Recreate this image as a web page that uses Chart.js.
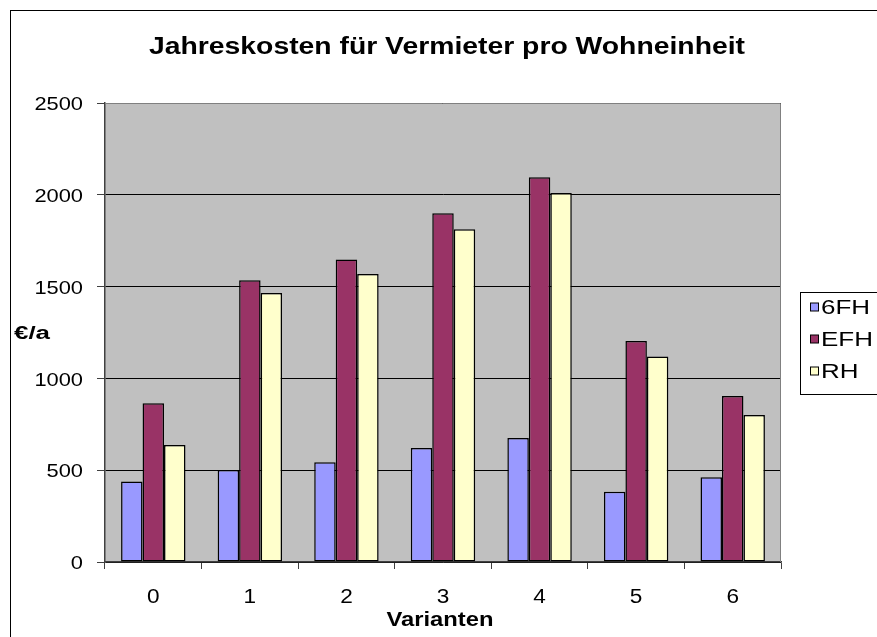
<!DOCTYPE html>
<html><head><meta charset="utf-8">
<script src="https://cdn.jsdelivr.net/npm/chart.js@4/dist/chart.umd.min.js"></script>
<style>html,body{margin:0;padding:0;background:#fff}#wrap{width:877px;height:637px;position:relative}</style>
</head><body><div id="wrap"><canvas id="c" width="877" height="637"></canvas></div>
<script>
const categories = ["0","1","2","3","4","5","6"];
const seriesNames = ["6FH","EFH","RH"];
const v6FH = [439, 501, 543, 621, 675, 383, 461];
const vEFH = [864, 1534, 1647, 1899, 2095, 1204, 904];
const vRH  = [637, 1465, 1569, 1812, 2010, 1119, 801];
const colors = ["#9999FF","#993366","#FFFFCC"];
const yTicks = [0, 500, 1000, 1500, 2000, 2500];
const titleText = "Jahreskosten für Vermieter pro Wohneinheit";
const yTitle = "€/a";
const xTitle = "Varianten";
const FONT = "'Liberation Sans', Arial, sans-serif";

// draw horizontally stretched text; if width given, stretch to that width
function stretchText(ctx, text, x, y, font, align, sx, width) {
  ctx.save();
  ctx.font = font;
  ctx.textBaseline = 'middle';
  ctx.textAlign = 'left';
  const w = ctx.measureText(text).width;
  if (width) sx = width / w;
  const tw = w * sx;
  let left = x;
  if (align === 'center') left = x - tw / 2;
  else if (align === 'right') left = x - tw;
  ctx.translate(left, y);
  ctx.scale(sx, 1);
  ctx.fillStyle = '#000';
  ctx.fillText(text, 0, 0);
  ctx.restore();
}

const deco = {
  id: 'deco',
  beforeDraw(chart) {
    const ctx = chart.ctx, a = chart.chartArea;
    ctx.save();
    ctx.fillStyle = '#fff';
    ctx.fillRect(0, 0, chart.width, chart.height);
    ctx.strokeStyle = '#000';
    ctx.lineWidth = 1;
    ctx.strokeRect(10.5, 10.5, chart.width + 20, chart.height + 20);
    ctx.fillStyle = '#C0C0C0';
    ctx.fillRect(a.left, a.top, a.right - a.left, a.bottom - a.top);
    ctx.restore();
  },
  afterDraw(chart) {
    const ctx = chart.ctx, a = chart.chartArea;
    const xs = chart.scales.x, ys = chart.scales.y;
    ctx.save();
    ctx.strokeStyle = '#808080';
    ctx.lineWidth = 1;
    ctx.beginPath();
    ctx.moveTo(a.left, a.top + 0.5); ctx.lineTo(a.right - 0.5, a.top + 0.5); ctx.lineTo(a.right - 0.5, a.bottom);
    ctx.stroke();
    ctx.restore();

    // title
    stretchText(ctx, titleText, 447, 48, "bold 23px " + FONT, 'center', 1, 596);
    // y ticks
    yTicks.forEach(v => stretchText(ctx, String(v), a.left - 22, ys.getPixelForValue(v) + 2, "19px " + FONT, 'right', 1.15));
    // x ticks
    categories.forEach((c, i) => stretchText(ctx, c, xs.getPixelForTick(i), 597, "20px " + FONT, 'center', 1.13));
    // axis titles
    stretchText(ctx, xTitle, (a.left + a.right) / 2 - 3, 620, "bold 20px " + FONT, 'center', 1, 107);
    stretchText(ctx, yTitle, 14, 334.5, "bold 18px " + FONT, 'left', 1, 36);

    // legend
    ctx.save();
    ctx.strokeStyle = '#000';
    ctx.lineWidth = 1;
    ctx.strokeRect(800.5, 292.5, 100, 102);
    seriesNames.forEach((n, i) => {
      const cy = 307.5 + i * 32;
      ctx.fillStyle = colors[i];
      ctx.fillRect(810.5, cy - 4.5, 8, 8);
      ctx.strokeStyle = '#000';
      ctx.strokeRect(810.5, cy - 4.5, 8, 8);
    });
    ctx.restore();
    seriesNames.forEach((n, i) => stretchText(ctx, n, 821, 308 + i * 32, "20px " + FONT, 'left', 1.3));
  }
};

new Chart(document.getElementById('c'), {
  type: 'bar',
  data: {
    labels: categories,
    datasets: [v6FH, vEFH, vRH].map((d, i) => ({
      label: seriesNames[i],
      data: d,
      backgroundColor: colors[i],
      borderColor: '#000',
      borderWidth: 1.5,
      borderSkipped: false,
      barPercentage: 1,
      categoryPercentage: 0.667
    }))
  },
  options: {
    responsive: false,
    animation: false,
    events: [],
    layout: { padding: { left: 0, right: 96, top: 103, bottom: 0 } },
    plugins: {
      legend: { display: false },
      tooltip: { enabled: false },
      title: { display: false }
    },
    scales: {
      x: {
        offset: true,
        grid: { offset: true, drawOnChartArea: false, color: '#404040', tickLength: 7, lineWidth: 1 },
        border: { color: '#404040', width: 1.5 },
        ticks: { display: false },
        afterFit(s) { s.height = 75; }
      },
      y: {
        min: 0, max: 2500,
        afterBuildTicks(s) { s.ticks = yTicks.map(v => ({ value: v })); },
        grid: { color: '#000', lineWidth: 1, tickLength: 8, tickColor: '#404040' },
        border: { color: '#404040', width: 1.5 },
        ticks: { display: false },
        afterFit(s) { s.width = 105; }
      }
    }
  },
  plugins: [deco]
});
</script>
</body></html>
